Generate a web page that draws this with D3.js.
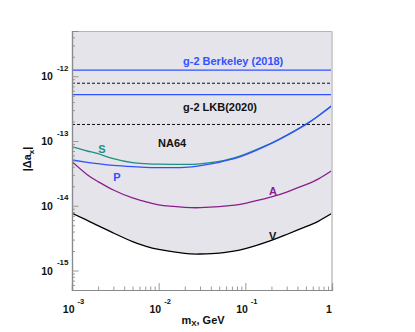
<!DOCTYPE html>
<html><head><meta charset="utf-8">
<script src="https://cdn.jsdelivr.net/npm/d3@7"></script>
<style>body{margin:0;background:#fff}svg{display:block}text{font-family:"Liberation Sans",Arial,Helvetica,sans-serif;font-weight:bold}</style>
</head><body><svg id="c" width="415" height="332"></svg>
<script>
// ---- data ----
const masses = [0.001,0.0015,0.002,0.003,0.005,0.007,0.01,0.02,0.03,0.05,0.07,0.1,0.2,0.3,0.5,0.7,1.0];
const curveS = [8.18e-14,7.01e-14,6.37e-14,5.34e-14,4.63e-14,4.47e-14,4.38e-14,4.36e-14,4.45e-14,4.85e-14,5.40e-14,6.30e-14,9.30e-14,1.22e-13,1.81e-13,2.46e-13,3.52e-13];
const curveP = [5.09e-14,4.69e-14,4.47e-14,4.21e-14,4.02e-14,3.92e-14,3.87e-14,3.92e-14,4.16e-14,4.69e-14,5.25e-14,6.10e-14,9.20e-14,1.22e-13,1.81e-13,2.46e-13,3.52e-13];
const curveA = [4.80e-14,3.02e-14,2.36e-14,1.75e-14,1.32e-14,1.16e-14,1.03e-14,9.45e-15,9.34e-15,9.68e-15,1.01e-14,1.09e-14,1.37e-14,1.63e-14,2.12e-14,2.60e-14,3.50e-14];
const curveV = [7.63e-15,5.96e-15,4.92e-15,3.80e-15,2.79e-15,2.39e-15,2.12e-15,1.84e-15,1.80e-15,1.86e-15,1.98e-15,2.17e-15,2.92e-15,3.60e-15,4.75e-15,5.80e-15,7.63e-15];
const berkeley = [1.24e-12, 5.2e-13];
const lkb = [7.8e-13, 1.8e-13];
const xMajor = [1e-3,1e-2,1e-1,1];
const xMajorBase = ["10","10","10","1"];
const xMajorExp = ["-3","-2","-1",""];
const yMajor = [1e-12,1e-13,1e-14,1e-15];
const yMajorExp = ["-12","-13","-14","-15"];

// ---- layout ----
const L=72,R=332,T=31,B=290;
const svg=d3.select("#c");
const x=d3.scaleLog().domain([1e-3,1]).range([L,R]);
const y=d3.scaleLog().domain([5e-16,5e-12]).range([B,T]);
const pts=a=>masses.map((m,i)=>[m,a[i]]);
svg.append("defs").append("clipPath").attr("id","clip").append("rect").attr("x",L).attr("y",T).attr("width",R-L).attr("height",B-T);
const g=svg.append("g").attr("clip-path","url(#clip)");
const curve=d3.curveNatural;

// shaded exclusion area above V
g.append("path").datum(pts(curveV))
 .attr("d",d3.area().x(d=>x(d[0])).y0(T).y1(d=>y(d[1])).curve(curve))
 .attr("fill","#e4e4ea");

// g-2 lines
berkeley.forEach(v=>g.append("line").attr("x1",L).attr("x2",R).attr("y1",y(v)).attr("y2",y(v)).attr("stroke","#3352ff").attr("stroke-width",1.3));
lkb.forEach(v=>g.append("line").attr("x1",L).attr("x2",R).attr("y1",y(v)).attr("y2",y(v)).attr("stroke","#111").attr("stroke-width",1).attr("stroke-dasharray","3,2"));

const line=d3.line().x(d=>x(d[0])).y(d=>y(d[1])).curve(curve);
[[curveS,"#1e8f80"],[curveP,"#3050ff"],[curveA,"#8b1d8b"],[curveV,"#000"]].forEach(([a,c])=>
  g.append("path").datum(pts(a)).attr("d",line).attr("fill","none").attr("stroke",c).attr("stroke-width",1.3));

// frame
svg.append("line").attr("x1",L).attr("x2",R).attr("y1",T+0.5).attr("y2",T+0.5).attr("stroke","#b4b4b4").attr("stroke-width",1);
svg.append("line").attr("x1",R).attr("x2",R).attr("y1",T).attr("y2",B).attr("stroke","#cfcfcf").attr("stroke-width",2);

// axes (ticks inside)
const minorX=[];for(let d=1e-3;d<1;d*=10)for(let k=2;k<=9;k++)minorX.push(k*d);
const minorY=[];for(let d=1e-16;d<1e-11;d*=10)for(let k=2;k<=9;k++){const v=k*d;if(v>=5e-16&&v<=5e-12)minorY.push(v);}
const ax=svg.append("g").attr("transform",`translate(0,${B})`);
ax.call(d3.axisBottom(x).tickValues(minorX).tickSize(-3.5).tickFormat(""));
ax.append("g").call(d3.axisBottom(x).tickValues(xMajor).tickSize(-7).tickFormat(""));
const ay=svg.append("g").attr("transform",`translate(${L},0)`);
ay.call(d3.axisLeft(y).tickValues(minorY).tickSize(-3).tickFormat(""));
ay.append("g").call(d3.axisLeft(y).tickValues(yMajor).tickSize(-6.5).tickFormat(""));
svg.selectAll(".domain").attr("stroke","#8a8a8a").attr("stroke-width",1.2);
svg.selectAll(".tick line").attr("stroke","#999");

// tick labels
xMajor.forEach((v,i)=>{
  const t=svg.append("text").attr("x",x(v)+(xMajorExp[i]?1.5:-3)).attr("y",313).attr("text-anchor","middle").attr("font-size",10.5).attr("fill","#111");
  t.append("tspan").text(xMajorBase[i]);
  if(xMajorExp[i]) t.append("tspan").attr("dx",3).attr("dy",-9).attr("font-size",7.5).text(xMajorExp[i]);
});
yMajor.forEach((v,i)=>{
  const t=svg.append("text").attr("x",68.5).attr("y",y(v)+4).attr("text-anchor","end").attr("font-size",10.5).attr("fill","#111");
  t.append("tspan").text("10");
  t.append("tspan").attr("dx",4).attr("dy",-9.5).attr("font-size",8).text(yMajorExp[i]);
});

// axis titles
const xt=svg.append("text").attr("x",203).attr("y",323.5).attr("text-anchor","middle").attr("font-size",11).attr("fill","#111");
xt.append("tspan").text("m");xt.append("tspan").attr("dy",2.5).attr("font-size",8).text("X");xt.append("tspan").attr("dy",-2.5).text(", GeV");
const yt=svg.append("text").attr("transform","translate(31,159) rotate(-90)").attr("text-anchor","middle").attr("font-size",11).attr("fill","#111");
yt.append("tspan").text("|Δa");yt.append("tspan").attr("dy",2.5).attr("font-size",8).text("x");yt.append("tspan").attr("dy",-2.5).text("|");

// annotations
const ann=(s,xx,yy,c,anchor)=>svg.append("text").attr("x",xx).attr("y",yy).attr("font-size",11).attr("fill",c).attr("text-anchor",anchor||"start").text(s);
ann("g-2 Berkeley (2018)",183,65,"#3352ff");
ann("g-2 LKB(2020)",183,110.7,"#111");
ann("NA64",158,147,"#111");
ann("S",98.3,153,"#1e8f80");
ann("P",113.3,181,"#3050ff");
ann("A",269,195,"#8b1d8b");
ann("V",269,240,"#111");
</script></body></html>
